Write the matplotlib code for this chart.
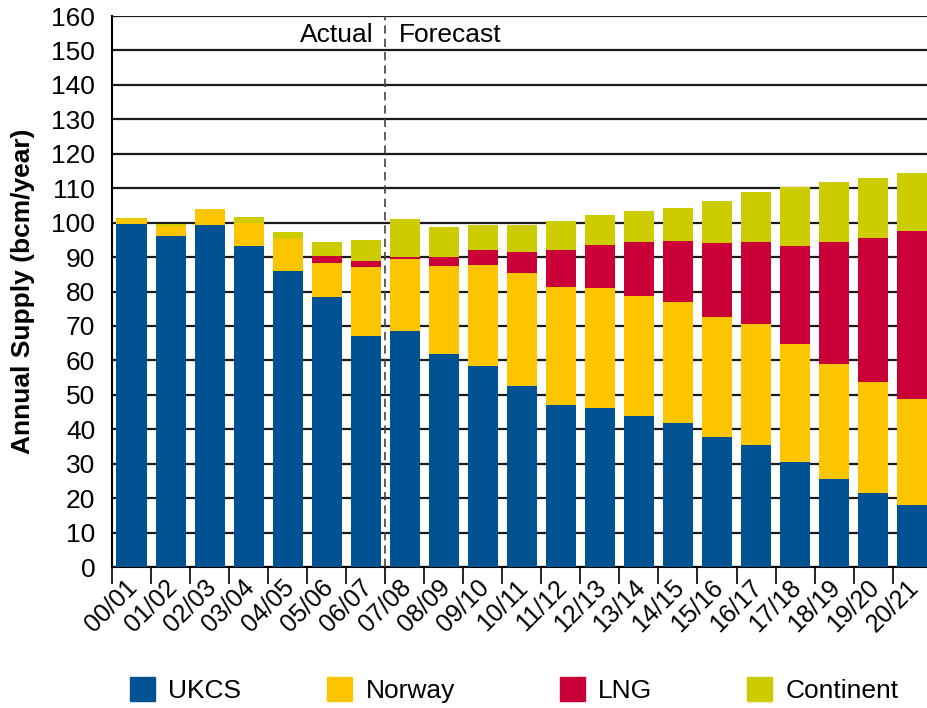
import numpy as np
import matplotlib
matplotlib.use("Agg")
from matplotlib import pyplot as plt
from matplotlib.patches import Patch
import matplotlib.transforms as mtransforms

years = ["00/01", "01/02", "02/03", "03/04", "04/05", "05/06", "06/07", "07/08",
         "08/09", "09/10", "10/11", "11/12", "12/13", "13/14", "14/15", "15/16",
         "16/17", "17/18", "18/19", "19/20", "20/21"]
ukcs = [99.7, 96.1, 99.4, 93.2, 85.9, 78.4, 67.0, 68.5, 61.8, 58.3, 52.7,
        47.2, 46.3, 44.0, 41.9, 37.9, 35.5, 30.6, 25.6, 21.6, 18.1]
norway = [1.3, 2.9, 4.5, 6.6, 9.4, 9.9, 20.1, 20.9, 25.6, 29.4, 32.6,
          34.1, 34.7, 34.6, 35.0, 34.6, 35.0, 34.1, 33.5, 32.0, 30.8]
lng = [0, 0, 0, 0, 0, 2.0, 1.7, 0.6, 2.6, 4.3, 6.2,
       10.7, 12.5, 15.8, 17.8, 21.6, 23.9, 28.5, 35.3, 41.9, 48.7]
continent = [0.4, 0.7, 0.2, 1.9, 2.0, 4.1, 6.2, 11.1, 8.7, 7.4, 7.9,
             8.6, 8.7, 9.0, 9.6, 12.3, 14.5, 17.2, 17.5, 17.5, 16.9]

names = ["UKCS", "Norway", "LNG", "Continent"]
colors = ["#005293", "#fdc500", "#cc0038", "#cccc00"]

plt.rcParams['font.family'] = ['Liberation Sans', 'DejaVu Sans']

fig = plt.figure(figsize=(9.27, 7.08), dpi=100)
ax = fig.add_axes([0.1208, 0.199, 0.8792, 0.7784])

x = np.arange(len(years))
bottom = np.zeros(len(years))
for vals, c in zip([ukcs, norway, lng, continent], colors):
    ax.bar(x, vals, width=0.77, bottom=bottom, color=c, zorder=3)
    bottom += np.array(vals)

ax.set_ylim(0, 160)
ax.set_xlim(-0.5, len(years) - 0.62)
ax.set_yticks(range(0, 161, 10))
ax.tick_params(axis='y', labelsize=19, length=0, pad=12)
ax.yaxis.grid(True, color='#1a1a1a', lw=1.6, zorder=1)

ax.set_xticks(x)
ax.set_xticklabels(years, rotation=45, ha='right', rotation_mode='anchor', fontsize=18)
ax.tick_params(axis='x', length=0, pad=6)
ax.set_xticks(np.append(-0.5, x[:-1] + 0.5), minor=True)
ax.tick_params(axis='x', which='minor', length=12, width=1.2, direction='out')

# nudge the slanted labels a little left so the last one stays inside the figure
shift = mtransforms.ScaledTranslation(-6 / 100, 0, fig.dpi_scale_trans)
for lbl in ax.get_xticklabels():
    lbl.set_transform(lbl.get_transform() + shift)

for s in ['top', 'right']:
    ax.spines[s].set_visible(False)
ax.spines['left'].set_linewidth(1.5)
ax.spines['bottom'].set_linewidth(1.5)

ax.set_ylabel("Annual Supply (bcm/year)", fontsize=19, fontweight='bold', labelpad=12)

ax.axvline(6.5, color='#444444', lw=1.2, ls=(0, (5, 3)), zorder=4)
ax.text(6.2, 154.6, "Actual", ha='right', va='center', fontsize=19)
ax.text(6.86, 154.6, "Forecast", ha='left', va='center', fontsize=19)

# one small legend per entry so that each sits where the reference has it
for n, c, xpos in zip(names, colors, [0.140, 0.353, 0.604, 0.806]):
    leg = fig.legend(handles=[Patch(color=c, label=n)], loc='center left',
                     bbox_to_anchor=(xpos, 0.025), frameon=False, fontsize=19,
                     handlelength=0.95, handleheight=1.0, handletextpad=0.5,
                     borderpad=0, borderaxespad=0)

fig.savefig("out.png", dpi=100)
